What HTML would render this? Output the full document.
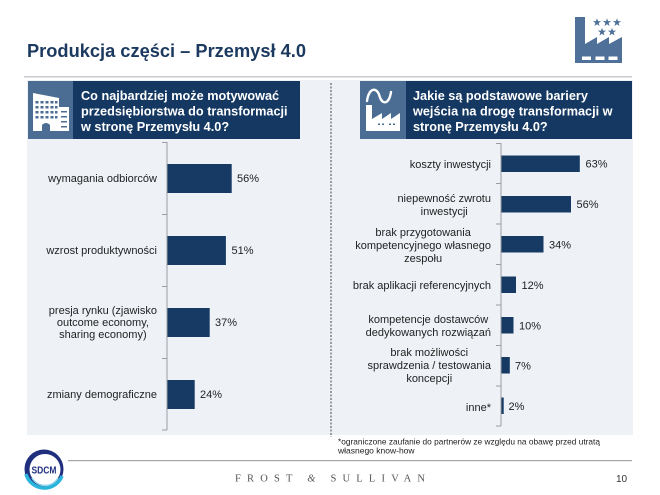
<!DOCTYPE html>
<html>
<head>
<meta charset="utf-8">
<style>
  html, body { margin: 0; padding: 0; background: #ffffff; }
  body { width: 660px; height: 495px; overflow: hidden; position: relative; }
  svg { display: block; font-family: "Liberation Sans", Arial, sans-serif; }
  .lbl { position: absolute; font-family: "Liberation Sans", Arial, sans-serif; font-size: 11px; color: #222; text-align: center; white-space: nowrap; }
  .l { line-height: 12px; right: 503px; }
  .r { line-height: 12.8px; right: 169px; }
</style>
</head>
<body>
<svg width="660" height="495" viewBox="0 0 660 495" xmlns="http://www.w3.org/2000/svg">
  <rect x="0" y="0" width="660" height="495" fill="#ffffff"/>

  <!-- Title -->
  <text x="27" y="57" font-size="18" font-weight="bold" fill="#1c3a60" textLength="279" lengthAdjust="spacingAndGlyphs">Produkcja części – Przemysł 4.0</text>

  <!-- Top-right factory icon -->
  <g fill="#4f7099">
    <polygon points="575,63 575,17 585,17 585,44 597,37 597,44 609,37 609,44 622,37 622,63"/>
    <g transform="translate(597,22.5)"><polygon points="0,-4.3 1.01,-1.39 4.09,-1.33 1.64,0.53 2.53,3.48 0,1.72 -2.53,3.48 -1.64,0.53 -4.09,-1.33 -1.01,-1.39"/></g>
    <g transform="translate(607,22.5)"><polygon points="0,-4.3 1.01,-1.39 4.09,-1.33 1.64,0.53 2.53,3.48 0,1.72 -2.53,3.48 -1.64,0.53 -4.09,-1.33 -1.01,-1.39"/></g>
    <g transform="translate(617,22.5)"><polygon points="0,-4.3 1.01,-1.39 4.09,-1.33 1.64,0.53 2.53,3.48 0,1.72 -2.53,3.48 -1.64,0.53 -4.09,-1.33 -1.01,-1.39"/></g>
    <g transform="translate(602,32)"><polygon points="0,-4.3 1.01,-1.39 4.09,-1.33 1.64,0.53 2.53,3.48 0,1.72 -2.53,3.48 -1.64,0.53 -4.09,-1.33 -1.01,-1.39"/></g>
    <g transform="translate(612,32)"><polygon points="0,-4.3 1.01,-1.39 4.09,-1.33 1.64,0.53 2.53,3.48 0,1.72 -2.53,3.48 -1.64,0.53 -4.09,-1.33 -1.01,-1.39"/></g>
  </g>
  <g fill="#ffffff">
    <rect x="582" y="56.5" width="9" height="3.5"/>
    <rect x="595.5" y="56.5" width="9" height="3.5"/>
    <rect x="608.5" y="56.5" width="9" height="3.5"/>
  </g>

  <!-- Header separator line -->
  <rect x="24" y="76" width="608" height="1.5" fill="#c6c9cd"/>

  <!-- Panel background -->
  <rect x="27" y="80" width="606" height="355" fill="#eef2f7"/>

  <!-- Left header box -->
  <rect x="28" y="81" width="272" height="58" fill="#143862"/>
  <rect x="28" y="81" width="45" height="58" fill="#4b6d94"/>
  <g>
    <polygon points="33,93 59,98 59,131 33,131" fill="#ffffff"/>
    <rect x="59" y="107" width="10" height="24" fill="#ffffff"/>
    <g fill="#4b6d94">
      <rect x="35.5" y="101" width="3" height="2.5"/><rect x="40.5" y="101" width="3" height="2.5"/><rect x="45.5" y="101" width="3" height="2.5"/><rect x="50.5" y="101" width="3" height="2.5"/><rect x="55" y="101" width="2.5" height="2.5"/>
      <rect x="35.5" y="106" width="3" height="2.5"/><rect x="40.5" y="106" width="3" height="2.5"/><rect x="45.5" y="106" width="3" height="2.5"/><rect x="50.5" y="106" width="3" height="2.5"/><rect x="55" y="106" width="2.5" height="2.5"/>
      <rect x="35.5" y="111" width="3" height="2.5"/><rect x="40.5" y="111" width="3" height="2.5"/><rect x="45.5" y="111" width="3" height="2.5"/><rect x="50.5" y="111" width="3" height="2.5"/><rect x="55" y="111" width="2.5" height="2.5"/>
      <rect x="35.5" y="116" width="3" height="2.5"/><rect x="40.5" y="116" width="3" height="2.5"/><rect x="45.5" y="116" width="3" height="2.5"/><rect x="50.5" y="116" width="3" height="2.5"/><rect x="55" y="116" width="2.5" height="2.5"/>
      <path d="M42,131 L42,125 Q46,121 50,125 L50,131 Z"/>
      <rect x="61" y="111" width="6" height="1.5"/><rect x="61" y="116" width="6" height="1.5"/><rect x="61" y="121" width="6" height="1.5"/><rect x="61" y="126" width="6" height="1.5"/>
    </g>
  </g>
  <g font-size="12.7" font-weight="bold" fill="#ffffff">
    <text x="81" y="100">Co najbardziej może motywować</text>
    <text x="81" y="115.5">przedsiębiorstwa do transformacji</text>
    <text x="81" y="131">w stronę Przemysłu 4.0?</text>
  </g>

  <!-- Right header box -->
  <rect x="360" y="81" width="272" height="58" fill="#143862"/>
  <rect x="360" y="81" width="46" height="58" fill="#4b6d94"/>
  <g>
    <path d="M367,101 C369,87 377,87 379.5,96 C382,105 389,105 391,92" fill="none" stroke="#ffffff" stroke-width="2.4" stroke-linecap="round"/>
    <polygon points="366,131 366,105 372,105 372,119 382,113 382,119 391,113 391,119 400,113 400,131" fill="#ffffff"/>
    <g fill="#4b6d94">
      <rect x="378" y="123.5" width="2" height="1.5"/><rect x="382" y="123.5" width="2" height="1.5"/>
      <rect x="389" y="123.5" width="2" height="1.5"/><rect x="393" y="123.5" width="2" height="1.5"/>
    </g>
  </g>
  <g font-size="12.7" font-weight="bold" fill="#ffffff">
    <text x="413" y="100">Jakie są podstawowe bariery</text>
    <text x="413" y="115.5">wejścia na drogę transformacji w</text>
    <text x="413" y="131">stronę Przemysłu 4.0?</text>
  </g>

  <!-- Dashed divider -->
  <line x1="331" y1="83" x2="331" y2="437" stroke="#444" stroke-width="1" stroke-dasharray="2,1.5"/>

  <!-- LEFT CHART -->
  <g stroke="#9a9ea3" stroke-width="1">
    <line x1="167" y1="142" x2="167" y2="430"/>
    <line x1="162" y1="142.5" x2="167" y2="142.5"/>
    <line x1="162" y1="214.5" x2="167" y2="214.5"/>
    <line x1="162" y1="286.5" x2="167" y2="286.5"/>
    <line x1="162" y1="358.5" x2="167" y2="358.5"/>
    <line x1="162" y1="430" x2="167" y2="430"/>
  </g>
  <g fill="#163a64">
    <rect x="167.5" y="164" width="64.2" height="29"/>
    <rect x="167.5" y="236" width="58.4" height="29"/>
    <rect x="167.5" y="308" width="42.2" height="29"/>
    <rect x="167.5" y="380" width="27.2" height="29"/>
  </g>
  <g font-size="11" fill="#222">
    <text x="237" y="182">56%</text>
    <text x="231.5" y="254">51%</text>
    <text x="215" y="326">37%</text>
    <text x="200" y="398">24%</text>
  </g>

  <!-- RIGHT CHART -->
  <g stroke="#9a9ea3" stroke-width="1">
    <line x1="501" y1="143" x2="501" y2="426"/>
    <line x1="496" y1="143.5" x2="501" y2="143.5"/>
    <line x1="496" y1="183.5" x2="501" y2="183.5"/>
    <line x1="496" y1="224" x2="501" y2="224"/>
    <line x1="496" y1="264.5" x2="501" y2="264.5"/>
    <line x1="496" y1="305" x2="501" y2="305"/>
    <line x1="496" y1="345.5" x2="501" y2="345.5"/>
    <line x1="496" y1="386" x2="501" y2="386"/>
    <line x1="496" y1="426" x2="501" y2="426"/>
  </g>
  <g fill="#163a64">
    <rect x="501.5" y="155.5" width="78.3" height="16.5"/>
    <rect x="501.5" y="196" width="69.5" height="16.5"/>
    <rect x="501.5" y="236" width="42" height="16.5"/>
    <rect x="501.5" y="276.5" width="14.5" height="16.5"/>
    <rect x="501.5" y="317" width="12" height="16.5"/>
    <rect x="501.5" y="357" width="8.3" height="16.5"/>
    <rect x="501.5" y="397.5" width="2.2" height="16.5"/>
  </g>
  <g font-size="11" fill="#222">
    <text x="585.5" y="167.5">63%</text>
    <text x="576.5" y="208">56%</text>
    <text x="549" y="248.5">34%</text>
    <text x="521.5" y="289">12%</text>
    <text x="519" y="329.5">10%</text>
    <text x="515" y="369.5">7%</text>
    <text x="508.5" y="410">2%</text>
  </g>

  <!-- Footnote -->
  <g font-size="8.5" fill="#222">
    <text x="338" y="444.5" textLength="262" lengthAdjust="spacingAndGlyphs">*ograniczone zaufanie do partnerów ze względu na obawę przed utratą</text>
    <text x="338" y="453.5">własnego know-how</text>
  </g>

  <!-- Footer line -->
  <rect x="68" y="460" width="564" height="1.2" fill="#a4a7aa"/>

  <!-- SDCM logo -->
  <g>
    <circle cx="44" cy="469" r="19.5" fill="#1f2f7e"/>
    <path d="M26,474 A19,19 0 0 0 62,476" fill="none" stroke="#2ab4dc" stroke-width="3.5"/>
    <circle cx="45" cy="469.5" r="15.5" fill="#ffffff"/>
    <path d="M32,478 A15,15 0 0 0 58,478" fill="none" stroke="#8fd6ee" stroke-width="1.5"/>
    <text x="31.5" y="473.5" font-size="10" font-weight="bold" fill="#1f2f7e" textLength="25" lengthAdjust="spacingAndGlyphs">SDCM</text>
  </g>

  <!-- FROST & SULLIVAN -->
  <text x="235" y="481.5" font-family="Liberation Serif, serif" font-size="10.5" fill="#555" textLength="190" lengthAdjust="spacing">FROST <tspan font-style="italic">&amp;</tspan> SULLIVAN</text>

  <!-- Page number -->
  <text x="616" y="482" font-size="10" fill="#333">10</text>
</svg>

<!-- Left chart category labels -->
<div class="lbl l" style="top:173.4px;">wymagania odbiorców</div>
<div class="lbl l" style="top:245.4px;">wzrost produktywności</div>
<div class="lbl l" style="top:305.4px;">presja rynku (zjawisko<br>outcome economy,<br>sharing economy)</div>
<div class="lbl l" style="top:389.4px;">zmiany demograficzne</div>

<!-- Right chart category labels -->
<div class="lbl r" style="top:158.5px;">koszty inwestycji</div>
<div class="lbl r" style="top:193px;">niepewność zwrotu<br>inwestycji</div>
<div class="lbl r" style="top:227px;">brak przygotowania<br>kompetencyjnego własnego<br>zespołu</div>
<div class="lbl r" style="top:280px;">brak aplikacji referencyjnych</div>
<div class="lbl r" style="top:314px;">kompetencje dostawców<br>dedykowanych rozwiązań</div>
<div class="lbl r" style="top:347.3px;">brak możliwości<br>sprawdzenia / testowania<br>koncepcji</div>
<div class="lbl r" style="top:401.5px;">inne*</div>
</body>
</html>
